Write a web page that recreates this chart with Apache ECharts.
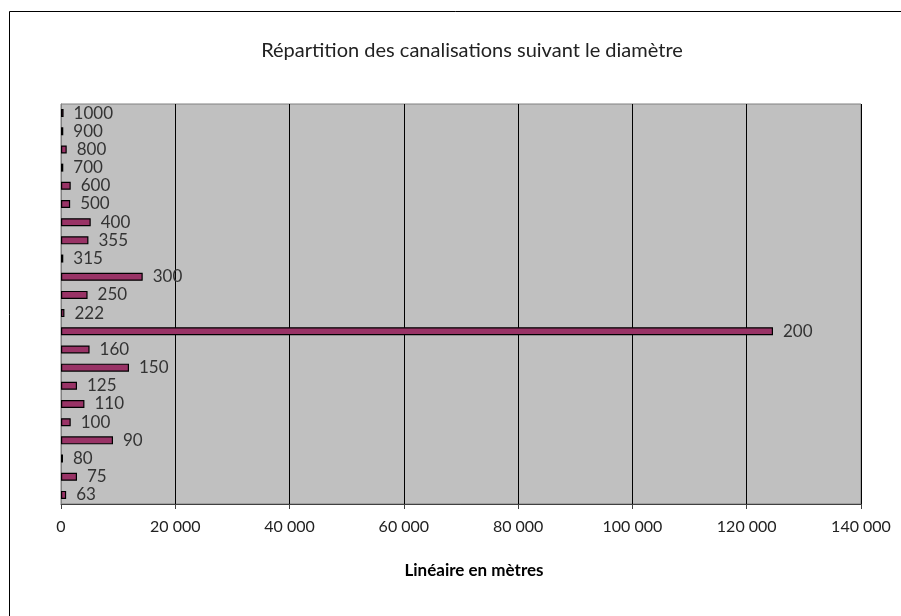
<!DOCTYPE html>
<html>
<head>
<meta charset="utf-8">
<script src="https://cdn.jsdelivr.net/npm/echarts@6/dist/echarts.min.js"></script>
<style>
  html, body { margin: 0; padding: 0; background: #ffffff; }
  #chart { width: 901px; height: 616px; }
</style>
</head>
<body>
<div id="chart"></div>
<script>
// Pipe diameters (mm), bottom to top
const diameters = ['63', '75', '80', '90', '100', '110', '125', '150', '160', '200', '222',
                   '250', '300', '315', '355', '400', '500', '600', '700', '800', '900', '1000'];
// Network length per diameter (m)
const lengths = [900, 2800, 350, 9100, 1700, 4100, 2800, 11900, 5000, 124600, 600,
                 4650, 14300, 400, 4800, 5200, 1600, 1700, 400, 1000, 400, 450];

const titleText = 'Répartition des canalisations suivant le diamètre';
const axisTitle = 'Linéaire en mètres';

const FONT = 'Lato, "Open Sans", sans-serif';

function spaced(v) {
  return String(v).replace(/\B(?=(\d{3})+(?!\d))/g, ' ');
}

const chart = echarts.init(document.getElementById('chart'), null, { renderer: 'canvas' });

chart.setOption({
  backgroundColor: '#ffffff',
  animation: false,
  graphic: [{
    type: 'rect',
    shape: { x: 9.5, y: 11.5, width: 1000, height: 1000 },
    style: { fill: null, stroke: '#000000', lineWidth: 1 },
    silent: true
  }, {
    type: 'text',
    x: 472,
    y: 51,
    style: {
      text: titleText,
      textAlign: 'center',
      textVerticalAlign: 'middle',
      fontFamily: FONT, fontSize: 20, fontWeight: 'normal', fill: '#222222'
    },
    silent: true
  }, {
    type: 'text',
    x: 474,
    y: 571,
    style: {
      text: axisTitle,
      textAlign: 'center',
      textVerticalAlign: 'middle',
      fontFamily: FONT, fontSize: 17, fontWeight: 'bold', fill: '#000000'
    },
    silent: true
  }],
  grid: {
    left: 61, top: 104, width: 800, height: 400,
    show: true,
    backgroundColor: '#c0c0c0',
    borderColor: '#808080',
    borderWidth: 1
  },
  xAxis: {
    type: 'value',
    min: 0, max: 140000, interval: 20000,
    axisLine: { show: true, lineStyle: { color: '#404040', width: 1 } },
    axisTick: { show: true, inside: false, length: 5, lineStyle: { color: '#404040' } },
    splitLine: { show: true, lineStyle: { color: '#000000', width: 1 } },
    axisLabel: {
      margin: 15,
      fontFamily: FONT, fontSize: 16, color: '#222222',
      formatter: spaced
    }
  },
  yAxis: {
    type: 'category',
    data: diameters,
    axisLine: { show: true, lineStyle: { color: '#808080' } },
    axisTick: { show: false },
    axisLabel: { show: false },
    splitLine: { show: false }
  },
  series: [{
    type: 'bar',
    data: lengths,
    barWidth: 8,
    itemStyle: { color: '#993366', borderColor: '#000000', borderWidth: 1.2 },
    label: {
      show: true,
      position: 'right',
      distance: 10,
      formatter: p => p.name,
      fontFamily: FONT, fontSize: 17, color: '#333333'
    }
  }]
});
</script>
</body>
</html>
